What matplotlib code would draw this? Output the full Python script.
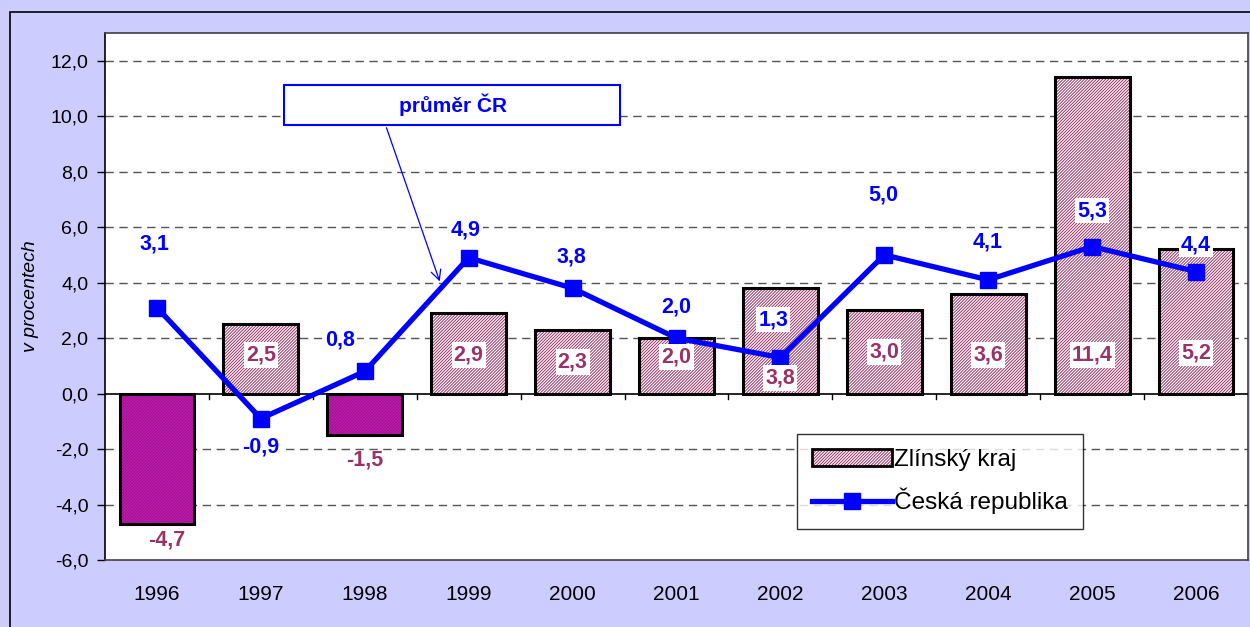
import matplotlib
matplotlib.use("Agg")
import matplotlib.pyplot as plt
from matplotlib.patches import Rectangle, Patch
from matplotlib.legend_handler import HandlerTuple

years = ["1996", "1997", "1998", "1999", "2000", "2001", "2002", "2003", "2004", "2005", "2006"]
zlin = [-4.7, 2.5, -1.5, 2.9, 2.3, 2.0, 3.8, 3.0, 3.6, 11.4, 5.2]
cr = [3.1, -0.9, 0.8, 4.9, 3.8, 2.0, 1.3, 5.0, 4.1, 5.3, 4.4]

# where the bar labels sit (data units) and line label offsets (pixels)
zlin_label_y = [-5.28, 1.39, -2.40, 1.39, 1.14, 1.32, 0.56, 1.50, 1.39, 1.39, 1.46]
zlin_label_dx = [0.09, 0, 0, 0, 0, 0, 0, 0, 0, 0, 0]
cr_label_off = [(-2, 64), (0, -28), (-25, 31), (-3, 28), (-1, 31), (0, 31),
                (-7, 38), (-1, 60), (-1, 38), (0, 36), (0, 27)]

maroon = "#993366"
blue = "#0000FF"
lavender = "#CCCCFF"
hatch = "/" * 11

plt.rcParams["font.family"] = "Liberation Sans"
plt.rcParams["hatch.linewidth"] = 0.7

fig = plt.figure(figsize=(12.5, 6.27), dpi=100, facecolor=lavender)
fig.patches.append(Rectangle((10 / 1250, -0.1), 1.2, (627 - 12) / 627 + 0.1,
                             transform=fig.transFigure, fill=False,
                             edgecolor="black", linewidth=1.2))
ax = fig.add_axes([105 / 1250, 67 / 627, 1143 / 1250, 527 / 627])
ax.set_facecolor("white")

x = list(range(len(years)))
ax.set_xlim(-0.5, len(years) - 0.5)
ax.set_ylim(-6, 13)

for yv in range(-4, 13, 2):
    if yv != 0:
        ax.axhline(yv, color="#555555", linestyle=(0, (6, 4)), linewidth=1.0, zorder=1)

for i, v in enumerate(zlin):
    if v >= 0:
        face, hc = "white", maroon
    else:
        face, hc = "#D010C8", "#8A2070"
    ax.bar(i, v, width=0.72, color=face, edgecolor=hc, hatch=hatch,
           linewidth=0, zorder=2)
    ax.bar(i, v, width=0.72, fill=False, edgecolor="black", linewidth=2.2, zorder=3)

ax.axhline(0, color="black", linewidth=1.2, zorder=3)
for b in range(1, len(years)):
    ax.plot([b - 0.5, b - 0.5], [0, -0.2], color="black", linewidth=1, zorder=3,
            clip_on=False)

line, = ax.plot(x, cr, color=blue, linewidth=3.8, marker="s", markersize=11, zorder=5)

for i, v in enumerate(zlin):
    ax.text(i + zlin_label_dx[i], zlin_label_y[i], f"{v:.1f}".replace(".", ","),
            ha="center", va="center", color=maroon, fontsize=15.5, fontweight="bold",
            zorder=6,
            bbox=dict(facecolor="white", edgecolor="none", pad=1.5) if v >= 0 else None)

for i, v in enumerate(cr):
    ax.annotate(f"{v:.1f}".replace(".", ","), (i, v), xytext=cr_label_off[i],
                textcoords="offset pixels", ha="center", va="center", color=blue,
                fontsize=15.5, fontweight="bold", zorder=7,
                bbox=dict(facecolor="white", edgecolor="none", pad=1.5))

# annotation box
ax.annotate("", xy=(2.73, 3.95), xytext=(2.2, 9.68),
            arrowprops=dict(arrowstyle="->", color=blue, linewidth=0.9,
                            mutation_scale=18), zorder=8)
ax.add_patch(Rectangle((1.22, 9.7), 3.24, 1.44, facecolor="white", edgecolor=blue,
                       linewidth=1.5, zorder=8))
ax.text(2.85, 10.42, "průměr ČR", ha="center", va="center", color=blue,
        fontsize=15, fontweight="bold", zorder=9)

for s in ax.spines.values():
    s.set_color("#404040")
    s.set_linewidth(1.2)
ax.spines["left"].set_color("black")

ax.set_yticks(range(-6, 13, 2))
ax.set_yticklabels([f"{t:.1f}".replace(".", ",") for t in range(-6, 13, 2)], fontsize=14)
ax.tick_params(axis="y", direction="out", length=6, width=1, pad=6)
ax.set_xticks(x)
ax.set_xticklabels(years, fontsize=15)
ax.tick_params(axis="x", length=0, pad=18)
ax.set_ylabel("v procentech", fontsize=14, fontstyle="italic", labelpad=8)

bar_handle = (Patch(facecolor="white", edgecolor=maroon, hatch=hatch, linewidth=0),
              Patch(fill=False, edgecolor="black", linewidth=2))
leg = ax.legend([bar_handle, line], ["Zlínský kraj", "Česká republika"],
                handler_map={tuple: HandlerTuple(ndivide=1)},
                loc="upper left", bbox_to_anchor=((797 - 105) / 1143, (560 - 434) / 527),
                fontsize=17.5, frameon=True, fancybox=False, edgecolor="black",
                borderpad=0.6, labelspacing=0.7, handlelength=3.3, handletextpad=0.1,
                borderaxespad=0)
leg.get_frame().set_linewidth(1.0)
leg.set_zorder(10)

fig.savefig("out.png", dpi=100, facecolor=lavender)
